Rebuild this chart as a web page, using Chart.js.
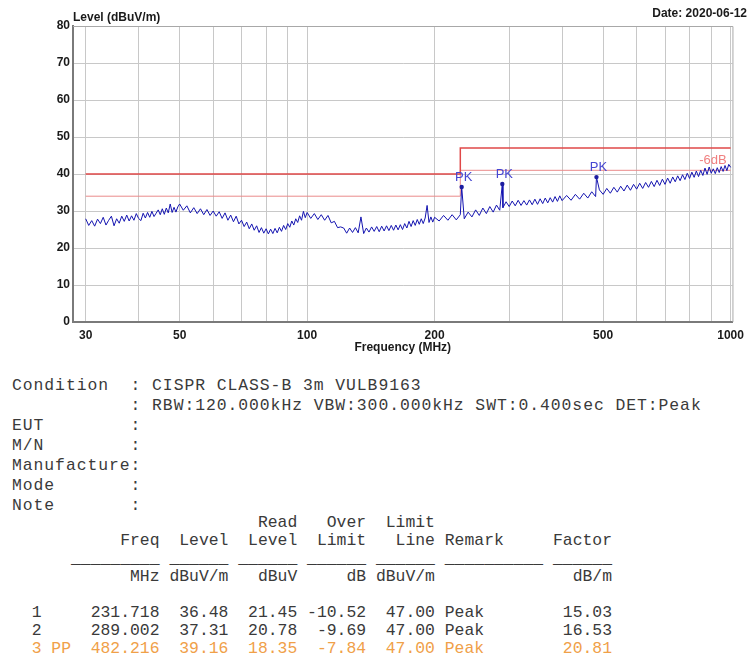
<!DOCTYPE html>
<html>
<head>
<meta charset="utf-8">
<script src="https://cdn.jsdelivr.net/npm/chart.js@4/dist/chart.umd.min.js"></script>
<style>
  html, body { margin: 0; background: #fff; }
  #wrap { position: relative; width: 750px; height: 661px; overflow: hidden; }
  #chart-box { position: absolute; left: 0; top: 0; width: 750px; height: 360px; }
  pre {
    position: absolute; left: 12px; margin: 0;
    font-family: "Liberation Mono", "Courier New", monospace;
    font-size: 16.4px; color: #3a3a3a;
  }
  #cond { top: 376px; line-height: 20px; letter-spacing: 0.94px; }
  #table { top: 514px; line-height: 18px; }
  .pp { color: #f0a048; }
</style>
</head>
<body>
<div id="wrap">
  <div id="chart-box"><canvas id="chart"></canvas></div>
  <pre id="cond">Condition  : CISPR CLASS-B 3m VULB9163
           : RBW:120.000kHz VBW:300.000kHz SWT:0.400sec DET:Peak
EUT        :
M/N        :
Manufacture:
Mode       :
Note       :</pre>
  <pre id="table"></pre>
</div>
<script>
// scan trace (MHz / dBuV/m)
const freqs = [
  30, 30.5, 31, 31.5, 32, 32.5, 33, 33.5, 34, 34.5,
  35, 35.5, 36, 36.5, 37, 37.5, 38, 38.5, 39, 39.5,
  40, 40.5, 41, 41.5, 42, 42.5, 43, 43.5, 44, 44.5,
  45, 45.5, 46, 46.5, 47, 47.5, 48, 48.5, 49, 49.5, 50,
  51, 52, 53, 54, 55, 56, 57, 58, 59, 60,
  61, 62, 63, 64, 65, 66, 67, 68, 69, 70,
  71, 72, 73, 74, 75, 76, 77, 78, 79, 80,
  81, 82, 83, 84, 85, 86, 87, 88, 89, 90,
  91, 92, 93, 94, 95, 96, 97, 98, 99, 100,
  102, 104, 106, 108, 110, 112, 114, 116, 118, 120,
  122, 124, 126, 128, 130, 132, 134, 136, 138, 140,
  142, 144, 146, 148, 150, 152, 154, 156, 158, 160,
  162, 164, 166, 168, 170, 172, 174, 176, 178, 180,
  182, 184, 186, 188, 190, 192, 194, 196, 198, 200,
  205, 210, 215, 220, 225, 230, 231.718, 235, 240, 245,
  250, 255, 260, 265, 270, 275, 280, 285, 289.002, 290,
  295, 300, 305, 310, 315, 320, 325, 330, 335, 340,
  345, 350, 355, 360, 365, 370, 375, 380, 385, 390, 395, 400,
  410, 420, 430, 440, 450, 460, 470, 480, 482.216, 490, 500,
  510, 520, 530, 540, 550, 560, 570, 580, 590, 600,
  610, 620, 630, 640, 650, 660, 670, 680, 690, 700,
  710, 720, 730, 740, 750, 760, 770, 780, 790, 800,
  810, 820, 830, 840, 850, 860, 870, 880, 890, 900,
  910, 920, 930, 940, 950, 960, 970, 980, 990, 1000
];
const levels = [
  27.9, 26.1, 27.4, 25.9, 27.8, 26.6, 28.3, 26.2, 27.5, 28.6,
  26.0, 27.9, 26.7, 28.6, 27.2, 28.9, 27.3, 28.7, 27.5, 29.3,
  28.0, 27.4, 29.4, 28.1, 29.6, 28.3, 29.9, 28.5, 29.4, 30.3,
  29.0, 30.6, 29.1, 30.8, 29.5, 31.9, 29.6, 31.0, 29.7, 31.1, 31.9,
  30.2, 31.4, 29.5, 30.9, 29.3, 30.6, 29.0, 30.4, 28.8, 30.0,
  28.6, 29.8, 28.0, 29.5, 27.5, 28.9, 27.1, 28.6, 26.5, 27.5,
  25.8, 27.0, 25.2, 26.5, 24.8, 26.0, 24.2, 25.5, 24.0, 25.2,
  23.8, 25.1, 23.9, 25.3, 24.1, 25.6, 24.5, 26.1, 25.0, 26.6,
  25.6, 27.3, 26.2, 27.9, 26.9, 28.7, 27.5, 29.9, 28.2, 29.6,
  28.0, 29.3, 27.7, 29.0, 27.5, 28.8, 26.8, 27.2, 25.5, 25.7,
  25.4, 24.0, 25.4, 24.2, 25.5, 24.1, 28.4, 23.9, 25.4, 24.3,
  25.7, 24.5, 25.8, 24.4, 25.9, 24.6, 26.0, 24.7, 26.1, 24.8,
  26.2, 24.9, 26.3, 25.0, 26.6, 25.4, 27.2, 25.8, 27.4, 26.1,
  27.7, 26.4, 27.9, 26.6, 28.1, 31.5, 26.9, 28.4, 27.0, 28.3,
  27.3, 28.8, 27.5, 29.0, 27.6, 29.0, 36.48, 27.9, 29.7, 28.4,
  30.3, 28.8, 30.8, 29.3, 31.2, 29.7, 31.6, 30.2, 37.31, 30.9,
  32.5, 31.2, 32.7, 31.4, 32.9, 31.5, 32.8, 31.6, 33.0, 31.7,
  33.2, 31.8, 33.3, 32.0, 33.5, 32.2, 33.6, 32.4, 33.9, 32.6, 34.1, 32.8,
  34.2, 32.9, 34.5, 33.2, 34.8, 33.5, 35.2, 33.9, 39.16, 35.7, 34.5,
  36.1, 34.8, 36.4, 35.1, 36.7, 35.4, 37.0, 35.6, 37.2, 35.9,
  37.5, 36.1, 37.7, 36.4, 38.0, 36.6, 38.3, 36.9, 38.6, 37.2,
  38.9, 37.5, 39.2, 37.9, 39.5, 38.2, 39.8, 38.5, 40.2, 38.8,
  40.5, 39.1, 40.8, 39.3, 41.0, 39.6, 41.6, 39.9, 41.9, 40.2,
  41.4, 40.1, 41.7, 40.4, 42.0, 40.7, 42.3, 40.9, 42.6, 41.8
];

// limit line (CISPR class B, 3 m) and the -6 dB margin line
const limitFreqs = [30, 230, 230, 1000];
const limitLevels = [40, 40, 47, 47];
const marginLevels = [34, 34, 41, 41];

// measured peaks
const peakFreqs = [231.718, 289.002, 482.216];
const peakLevels = [36.48, 37.31, 39.16];
const readLevels = [21.45, 20.78, 18.35];
const overLimits = [-10.52, -9.69, -7.84];
const limitAtPeak = [47.00, 47.00, 47.00];
const factors = [15.03, 16.53, 20.81];
const remarks = ["Peak", "Peak", "Peak"];

// axes
const gridFreqs = [30, 40, 50, 60, 70, 80, 90, 100, 200, 300, 400, 500, 600, 700, 800, 900, 1000];
const labelFreqs = [30, 50, 100, 200, 500, 1000];
const yTicks = [0, 10, 20, 30, 40, 50, 60, 70, 80];

const yTitle = "Level (dBuV/m)";
const xTitle = "Frequency (MHz)";
const dateText = "Date: 2020-06-12";

const SANS = '"Liberation Sans", Arial, sans-serif';
const GRID = "#c8c8c8";
const AXIS = "#7a7a7a";

function pts(xs, ys) {
  return xs.map((x, i) => ({ x: x, y: ys[i] }));
}

const textPlugin = {
  id: "reportText",
  afterDatasetsDraw(chart) {
    const { ctx } = chart;
    const meta = chart.getDatasetMeta(0);
    ctx.save();
    ctx.font = "13px " + SANS;
    ctx.fillStyle = "#4646d2";
    ctx.textAlign = "center";
    ctx.textBaseline = "bottom";
    meta.data.forEach((p) => ctx.fillText("PK", p.x + 2, p.y - 3));
    const x = chart.scales.x, y = chart.scales.y;
    ctx.fillStyle = "#f08080";
    ctx.textAlign = "right";
    ctx.fillText("-6dB", x.getPixelForValue(1000) - 4, y.getPixelForValue(marginLevels[3]) - 3);
    ctx.restore();
  },
  afterDraw(chart) {
    const { ctx, chartArea } = chart;
    ctx.save();
    ctx.strokeStyle = "#a8a8a8";
    ctx.lineWidth = 1;
    ctx.beginPath();
    ctx.moveTo(chartArea.left, chartArea.top + 0.5);
    ctx.lineTo(chartArea.right + 0.5, chartArea.top + 0.5);
    ctx.lineTo(chartArea.right + 0.5, chartArea.bottom);
    ctx.stroke();
    ctx.font = "bold 12px " + SANS;
    ctx.fillStyle = "#1a1a1a";
    ctx.textBaseline = "bottom";
    ctx.textAlign = "left";
    ctx.fillText(yTitle, chartArea.left, chartArea.top - 2);
    ctx.textAlign = "right";
    ctx.fillText(dateText, chart.width - 3, chartArea.top - 6);
    ctx.restore();
  }
};

new Chart(document.getElementById("chart"), {
  type: "line",
  data: {
    datasets: [
      {
        label: "PK",
        data: pts(peakFreqs, peakLevels),
        showLine: false,
        pointRadius: 2.2,
        pointBackgroundColor: "#1c1ca0",
        pointBorderWidth: 0
      },
      {
        label: "Level",
        data: pts(freqs, levels),
        borderColor: "#1414b0",
        borderWidth: 1,
        pointRadius: 0,
        tension: 0
      },
      {
        label: "Limit",
        data: pts(limitFreqs, limitLevels),
        borderColor: "#e04848",
        borderWidth: 1.5,
        pointRadius: 0
      },
      {
        label: "Limit -6dB",
        data: pts(limitFreqs, marginLevels),
        borderColor: "#ea8a8a",
        borderWidth: 1,
        pointRadius: 0
      }
    ]
  },
  options: {
    responsive: true,
    maintainAspectRatio: false,
    animation: false,
    events: [],
    layout: { padding: { top: 26, right: 15, left: 0, bottom: 0 } },
    plugins: { legend: { display: false }, tooltip: { enabled: false } },
    scales: {
      x: {
        type: "logarithmic",
        min: 28,
        max: 1010,
        afterBuildTicks: (scale) => { scale.ticks = gridFreqs.map((v) => ({ value: v })); },
        afterFit: (scale) => { scale.height = 38; },
        ticks: {
          autoSkip: false,
          maxRotation: 0,
          padding: 6,
          color: "#1a1a1a",
          font: { family: SANS, size: 12, weight: "bold" },
          callback: (value) => (labelFreqs.includes(value) ? String(value) : "")
        },
        grid: { color: GRID, drawTicks: false },
        border: { color: AXIS, width: 2 },
        title: {
          display: true,
          text: xTitle,
          color: "#1a1a1a",
          font: { family: SANS, size: 12, weight: "bold" },
          padding: { top: 0, bottom: 5 }
        }
      },
      y: {
        min: 0,
        max: 80,
        afterBuildTicks: (scale) => { scale.ticks = yTicks.map((v) => ({ value: v })); },
        afterFit: (scale) => { scale.width = 73; },
        ticks: {
          padding: 3,
          color: "#1a1a1a",
          font: { family: SANS, size: 12, weight: "bold" }
        },
        grid: { color: GRID, drawTicks: false },
        border: { color: AXIS, width: 2 }
      }
    }
  },
  plugins: [textPlugin]
});

// result table under the plot
const rows = [
  "                         Read   Over  Limit",
  "           Freq  Level  Level  Limit   Line Remark     Factor",
  "      _________ ______ ______ ______ ______ __________ ______",
  "            MHz dBuV/m   dBuV     dB dBuV/m              dB/m",
  ""
];
peakFreqs.forEach((f, i) => {
  const head = ("  " + (i + 1) + (i === peakFreqs.length - 1 ? " PP" : "")).padEnd(8);
  const line = head +
    f.toFixed(3).padStart(7) +
    peakLevels[i].toFixed(2).padStart(7) +
    readLevels[i].toFixed(2).padStart(7) +
    overLimits[i].toFixed(2).padStart(7) +
    limitAtPeak[i].toFixed(2).padStart(7) + " " +
    remarks[i] + factors[i].toFixed(2).padStart(13);
  rows.push(i === peakFreqs.length - 1 ? '<span class="pp">' + line + "</span>" : line);
});
document.getElementById("table").innerHTML = rows.join("\n");
</script>
</body>
</html>
